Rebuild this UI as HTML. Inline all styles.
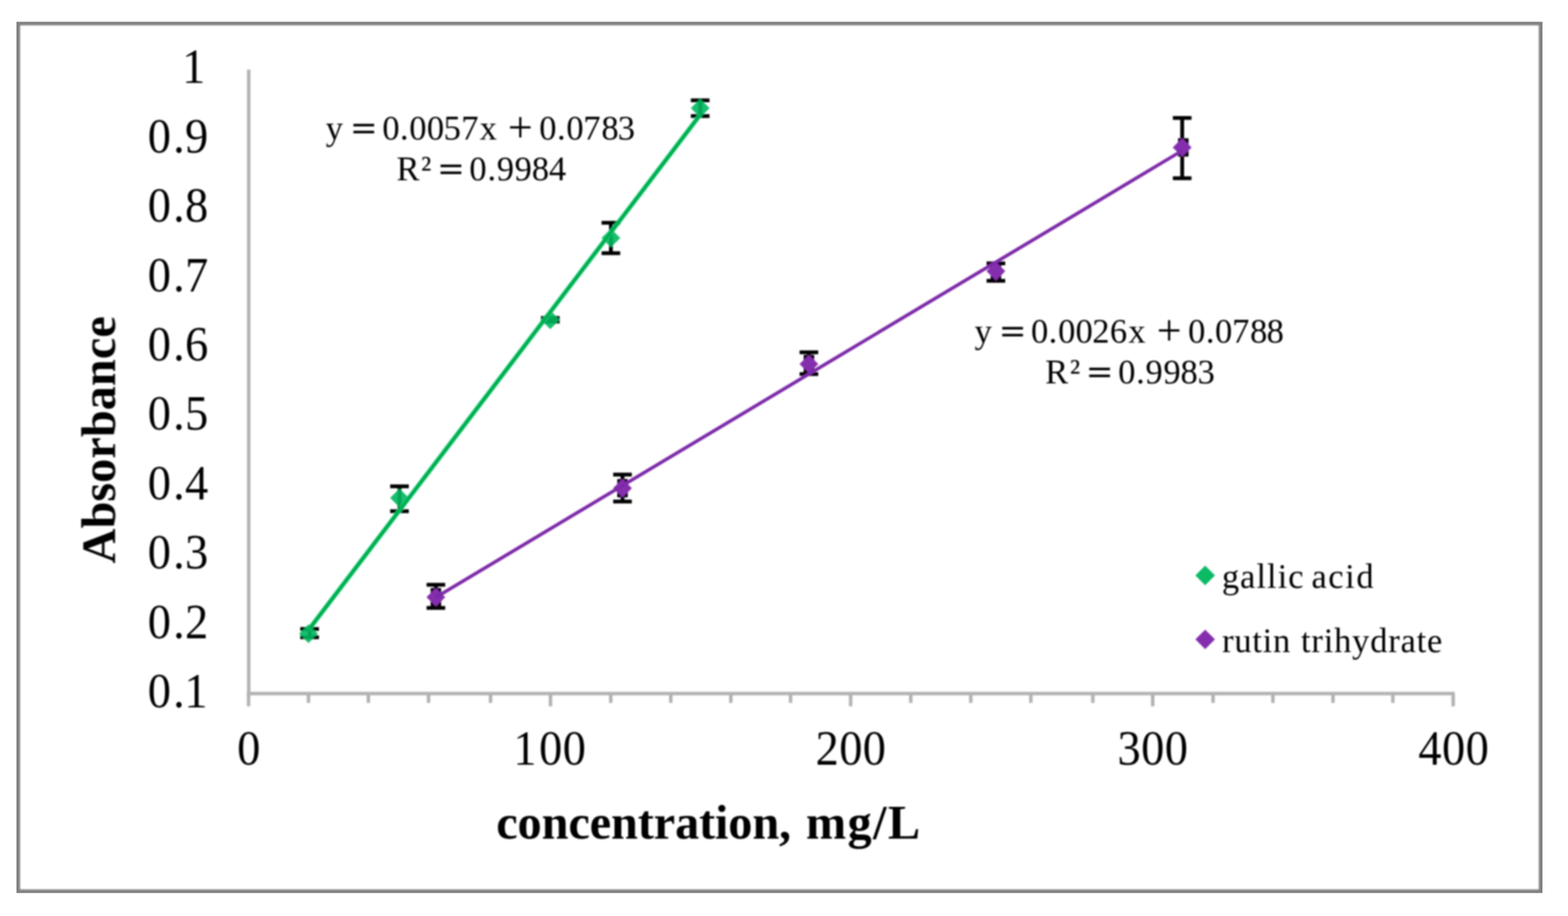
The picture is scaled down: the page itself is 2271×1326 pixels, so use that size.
<!DOCTYPE html>
<html lang="en">
<head>
<meta charset="utf-8">
<title>Calibration curves: gallic acid and rutin trihydrate</title>
<style>
html,body{margin:0;padding:0;background:#fff;}
body{width:2271px;height:1326px;overflow:hidden;}
svg{display:block;}
text{font-family:"Liberation Serif","Times New Roman",Times,serif;fill:#000;white-space:pre;}
.tick{font-size:71.5px;}
.title{font-size:70px;font-weight:bold;}
.eq{font-size:50px;}
.sym{font-family:"DejaVu Serif","Liberation Serif",serif;}
</style>
</head>
<body>
<svg width="2271" height="1326" viewBox="0 0 2271 1326" role="img" aria-label="Absorbance versus concentration calibration chart">
<defs>
<filter id="bl" x="0" y="0" width="2271" height="1326" filterUnits="userSpaceOnUse"><feGaussianBlur stdDeviation="1.25"/></filter>
<filter id="bt" x="0" y="0" width="2271" height="1326" filterUnits="userSpaceOnUse"><feGaussianBlur stdDeviation="0.85"/></filter>
<filter id="bm" x="0" y="0" width="2271" height="1326" filterUnits="userSpaceOnUse"><feGaussianBlur stdDeviation="1.1"/></filter>
<clipPath id="pic"><rect x="23.8" y="31.4" width="2210.2" height="1261.4"/></clipPath>
</defs>
<rect x="0" y="0" width="2271" height="1326" fill="#ffffff"/>
<g clip-path="url(#pic)">
<g filter="url(#bl)">
<rect x="23.45" y="31.05" width="2210.9" height="1262.1" fill="none" stroke="#818181" stroke-width="11.3"/>
</g>
</g>
<g filter="url(#bl)" stroke="#b2b2b2" stroke-width="5" fill="none">
<line x1="360.2" y1="100.8" x2="360.2" y2="1006.5"/>
<line x1="357.7" y1="1004" x2="2107" y2="1004"/>
<line x1="360" y1="1004" x2="360" y2="1022.5"/>
<line x1="446.8" y1="1004" x2="446.8" y2="1017.5"/>
<line x1="533.5" y1="1004" x2="533.5" y2="1017.5"/>
<line x1="620.7" y1="1004" x2="620.7" y2="1017.5"/>
<line x1="710.5" y1="1004" x2="710.5" y2="1017.5"/>
<line x1="797.3" y1="1004" x2="797.3" y2="1022.5"/>
<line x1="884.6" y1="1004" x2="884.6" y2="1017.5"/>
<line x1="971.5" y1="1004" x2="971.5" y2="1017.5"/>
<line x1="1058.5" y1="1004" x2="1058.5" y2="1017.5"/>
<line x1="1145" y1="1004" x2="1145" y2="1017.5"/>
<line x1="1232" y1="1004" x2="1232" y2="1022.5"/>
<line x1="1319.1" y1="1004" x2="1319.1" y2="1017.5"/>
<line x1="1406" y1="1004" x2="1406" y2="1017.5"/>
<line x1="1493" y1="1004" x2="1493" y2="1017.5"/>
<line x1="1582.8" y1="1004" x2="1582.8" y2="1017.5"/>
<line x1="1669.5" y1="1004" x2="1669.5" y2="1022.5"/>
<line x1="1756.9" y1="1004" x2="1756.9" y2="1017.5"/>
<line x1="1843.6" y1="1004" x2="1843.6" y2="1017.5"/>
<line x1="1930.6" y1="1004" x2="1930.6" y2="1017.5"/>
<line x1="2017.3" y1="1004" x2="2017.3" y2="1017.5"/>
<line x1="2104.7" y1="1004" x2="2104.7" y2="1022.5"/>
</g>
<g filter="url(#bm)">
<g stroke="#000000" stroke-width="5.5" fill="none">
<path d="M434.9 910.5H461.9M434.9 922.6H461.9M448.4 910.5V922.6"/>
<path d="M565.1 703.9H592.1M565.1 740.1H592.1M578.6 703.9V740.1"/>
<path d="M783.5 460.3H810.5M783.5 465.5H810.5M797 460.3V465.5"/>
<path d="M871.3 322.6H898.3M871.3 366.4H898.3M884.8 322.6V366.4"/>
<path d="M1000.6 145.2H1027.6M1000.6 167.9H1027.6M1014.1 145.2V167.9"/>
</g>
<g fill="#00b75e" fill-opacity="0.9">
<path d="M446.8 903.7L460.4 917.3L446.8 930.9L433.2 917.3Z"/>
<path d="M578.6 707.2L592.2 720.8L578.6 734.4L565 720.8Z"/>
<path d="M797 449.3L810.6 462.9L797 476.5L783.4 462.9Z"/>
<path d="M884.8 330.9L898.4 344.5L884.8 358.1L871.2 344.5Z"/>
<path d="M1014.1 143L1027.7 156.6L1014.1 170.2L1000.5 156.6Z"/>
</g>
<g stroke="#000000" stroke-width="5.5" fill="none">
<path d="M617.8 846.4H644.8M617.8 880H644.8M631.3 846.4V880"/>
<path d="M888.1 687.1H915.1M888.1 725.9H915.1M901.6 687.1V725.9"/>
<path d="M1158.1 510H1185.1M1158.1 541.4H1185.1M1171.6 510V541.4"/>
<path d="M1428.9 381.2H1455.9M1428.9 406.4H1455.9M1442.4 381.2V406.4"/>
<path d="M1698.7 170.7H1725.7M1698.7 257.9H1725.7M1712.2 170.7V257.9"/>
</g>
<g fill="#000000">
<rect x="623.7" y="851.3" width="15.2" height="26.4"/>
<rect x="894" y="693.5" width="15.2" height="26.4"/>
<rect x="1164" y="513.8" width="15.2" height="26.4"/>
<rect x="1434.8" y="379.4" width="15.2" height="26.4"/>
<rect x="1706.2" y="200.2" width="15.2" height="26.4"/>
</g>
<g fill="#842fae" fill-opacity="1">
<path d="M631.3 850.9L644.9 864.5L631.3 878.1L617.7 864.5Z"/>
<path d="M901.6 693.1L915.2 706.7L901.6 720.3L888 706.7Z"/>
<path d="M1171.6 513.4L1185.2 527L1171.6 540.6L1158 527Z"/>
<path d="M1442.4 379L1456 392.6L1442.4 406.2L1428.8 392.6Z"/>
<path d="M1712.2 199.8L1725.8 213.4L1712.2 227L1698.6 213.4Z"/>
</g>
<line x1="446.8" y1="912" x2="1014.1" y2="166.2" stroke="#35d9a4" stroke-width="7" stroke-opacity="0.75"/>
<line x1="446.8" y1="912" x2="1014.1" y2="166.2" stroke="#00b04c" stroke-width="5.4"/>
<line x1="631" y1="864.8" x2="1712.3" y2="218" stroke="#7d2aa8" stroke-width="4.9"/>
<path fill="#00b75e" fill-opacity="0.96" d="M1745.5 818.8L1759.7 833L1745.5 847.2L1731.3 833Z"/>
<path fill="#842fae" fill-opacity="1" d="M1745.5 911.4L1759.7 925.6L1745.5 939.8L1731.3 925.6Z"/>
</g>
<g filter="url(#bt)">
<text class="tick" transform="scale(0.94 1)" x="227.55 266.81 284.11" y="1024">0.1</text>
<text class="tick" transform="scale(0.94 1)" x="227.55 266.81 285.1" y="923.6">0.2</text>
<text class="tick" transform="scale(0.94 1)" x="227.55 266.81 285.1" y="823.2">0.3</text>
<text class="tick" transform="scale(0.94 1)" x="227.55 266.81 285.1" y="722.8">0.4</text>
<text class="tick" transform="scale(0.94 1)" x="227.55 266.81 285.1" y="622.4">0.5</text>
<text class="tick" transform="scale(0.94 1)" x="227.55 266.81 285.1" y="522">0.6</text>
<text class="tick" transform="scale(0.94 1)" x="227.55 266.81 285.1" y="421.6">0.7</text>
<text class="tick" transform="scale(0.94 1)" x="227.55 266.81 285.1" y="321.2">0.8</text>
<text class="tick" transform="scale(0.94 1)" x="227.55 266.81 285.1" y="220.8">0.9</text>
<text class="tick" transform="scale(0.94 1)" x="280.49" y="120.4">1</text>
<text class="tick" transform="scale(0.94 1)" x="365.32" y="1107.2">0</text>
<text class="tick" transform="scale(0.94 1)" x="791.02 830.53 866.91" y="1107.2">100</text>
<text class="tick" transform="scale(0.94 1)" x="1256.59 1292.98 1329.36" y="1107.2">200</text>
<text class="tick" transform="scale(0.94 1)" x="1721.91 1758.3 1794.68" y="1107.2">300</text>
<text class="tick" transform="scale(0.94 1)" x="2185.42 2221.81 2258.19" y="1107.2">400</text>
<text class="title"><tspan x="718.71 749.59 784.4 823.14 854.01 884.89 923.63 946.75 977.63 1012.44 1035.56 1054.82 1089.63 1128.37" y="1214">concentration,</tspan> <tspan x="1167.22 1227.52 1264.51 1285.95" y="1214">mg/L</tspan></text>
<text class="title" transform="translate(166.6 815) rotate(-90)" x="-0.68 49.88 88.82 116.07 151.09 182.17 221.11 256.12 295.06 326.14" y="0">Absorbance</text>
<text class="eq"><tspan x="471.79" y="201.7">y</tspan> <tspan class="sym" font-size="48" x="506.79" y="201.7">=</tspan> <tspan x="553.7 579.25 592.8 618.2 642.52 667.97 694.69" y="201.7">0.0057x</tspan> <tspan font-size="64" x="735.62" y="205.6">+</tspan> <tspan x="781.1 806.85 820.2 844.87 870.9 894.78" y="201.7">0.0783</tspan></text>
<text class="eq"><tspan x="574.24" y="260.6">R</tspan><tspan x="609.85" y="260.6">²</tspan> <tspan class="sym" font-size="48" x="632.99" y="260.6">=</tspan> <tspan x="679.8 705.95 719.42 745.32 770.2 795" y="260.6">0.9984</tspan></text>
<text class="eq"><tspan x="1411.39" y="495.7">y</tspan> <tspan class="sym" font-size="48" x="1446.39" y="495.7">=</tspan> <tspan x="1493.3 1518.85 1532.4 1557.8 1582.12 1607.57 1634.29" y="495.7">0.0026x</tspan> <tspan font-size="64" x="1675.22" y="499.6">+</tspan> <tspan x="1720.7 1746.45 1759.8 1784.47 1810.5 1834.38" y="495.7">0.0788</tspan></text>
<text class="eq"><tspan x="1513.84" y="554.6">R</tspan><tspan x="1549.45" y="554.6">²</tspan> <tspan class="sym" font-size="48" x="1572.59" y="554.6">=</tspan> <tspan x="1619.4 1645.55 1659.02 1684.92 1709.8 1734.6" y="554.6">0.9983</tspan></text>
<text class="eq"><tspan x="1769.65 1796.1 1819.73 1835.07 1850.41 1865.75" y="851.4">gallic</tspan> <tspan x="1899.44 1923.87 1948.29 1964.41" y="851.4">acid</tspan></text>
<text class="eq"><tspan x="1770 1787.76 1813.86 1828.86 1843.86" y="944.3">rutin</tspan> <tspan x="1884.31 1899.35 1917.16 1932.2 1958.35 1984.5 2010.65 2028.45 2051.8 2066.84" y="944.3">trihydrate</tspan></text>
</g>
</svg>
</body>
</html>
